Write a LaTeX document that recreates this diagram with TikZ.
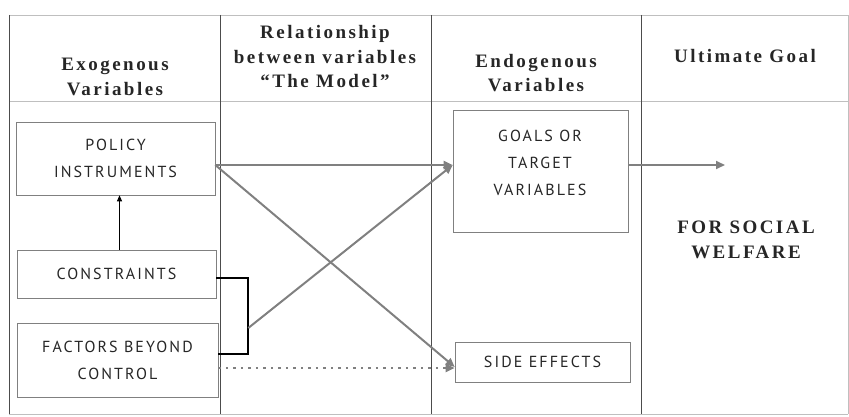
\documentclass[tikz,border=0pt]{standalone}
\usepackage{fontspec}
\setmainfont{Liberation Serif}
\newfontfamily\boxfont[LetterSpace=13]{PT Sans}
\newfontfamily\headfont[LetterSpace=13,Ligatures=TeX]{Liberation Serif}
\usetikzlibrary{arrows.meta}
\begin{document}
\begin{tikzpicture}[x=1pt,y=-1pt,
  grid/.style={draw=black!70,line width=0.8pt},
  faint/.style={draw=black!25,line width=0.6pt},
  vbox/.style={draw=black!50,line width=0.6pt,inner sep=0pt},
  boxtext/.style={font=\boxfont\fontsize{16}{27}\selectfont,text=black!85,align=center},
  headtext/.style={font=\headfont\bfseries\fontsize{19}{24.5}\selectfont,text=black!85,align=center},
  flow/.style={draw=black!50,line width=2pt,-{Triangle[length=9pt,width=8pt]}},
  upar/.style={draw=black,line width=0.9pt,-{Triangle[length=6pt,width=5pt]}},
  brack/.style={draw=black,line width=1.8pt},
  dots/.style={draw=black!50,line width=2.5pt,dash pattern=on 2.5pt off 5pt,-{Triangle[length=9pt,width=8pt]}}
]
\useasboundingbox (0,0) rectangle (849,417);
% table frame
\draw[faint] (9,15) -- (848,15);
\draw[faint] (9,101) -- (848,101);
\draw[faint] (9,414) -- (848,414);
\draw[grid] (9,15) -- (9,414);
\draw[grid] (220,15) -- (220,414);
\draw[grid] (431,15) -- (431,414);
\draw[grid] (641,15) -- (641,414);
\draw[faint] (848,15) -- (848,414);
% headers
\node[headtext] (h1) at (115,77) {Exogenous\\Variables};
\node[headtext] (h2) at (325,57) {Relationship\\between variables\\“The Model”};
\node[headtext] (h3) at (536,73) {Endogenous\\Variables};
\node[headtext] (h4) at (745,56) {Ultimate Goal};
% boxes
\node[vbox,minimum width=199pt,minimum height=73pt,boxtext] (pol) at (115.5,158.5) {POLICY\\INSTRUMENTS};
\node[vbox,minimum width=199pt,minimum height=48pt,boxtext] (cons) at (116.5,274) {CONSTRAINTS};
\node[vbox,minimum width=201pt,minimum height=74pt,boxtext] (fac) at (117.5,360) {FACTORS BEYOND\\CONTROL};
\node[vbox,minimum width=175pt,minimum height=122pt] (goal) at (540.5,171) {};
\node[boxtext] (goaltext) at (540,163) {GOALS OR\\TARGET\\VARIABLES};
\node[vbox,minimum width=175pt,minimum height=40pt,boxtext] (side) at (542.5,362) {SIDE EFFECTS};
\node[headtext] (welfare) at (746,240) {FOR SOCIAL\\WELFARE};
% connectors
\coordinate (polout) at ([yshift=-6.5pt]pol.east);
\draw[flow] (polout) -- (polout -| goal.west);
\draw[flow] (polout) -- ([yshift=-5pt]side.west);
\coordinate (bt) at ([shift={(32pt,-4pt)}]cons.east);
\coordinate (bb) at ([shift={(31pt,6pt)}]fac.east);
\draw[brack] ([yshift=-4pt]cons.east) -- (bt) -- (bt |- bb) -- ([yshift=6pt]fac.east);
\coordinate (bmid) at ([yshift=-50pt]bt);
\draw[flow] (bmid) -- (polout -| goal.west);
\draw[dots] ([yshift=-8pt]fac.east) -- ([yshift=-6pt]side.west);
\draw[upar] ([xshift=3pt]cons.north) -- ([xshift=3pt]cons.north |- pol.south);
\coordinate (ultend) at (725,165);
\draw[flow] (polout -| goal.east) -- (ultend);
\end{tikzpicture}
\end{document}
